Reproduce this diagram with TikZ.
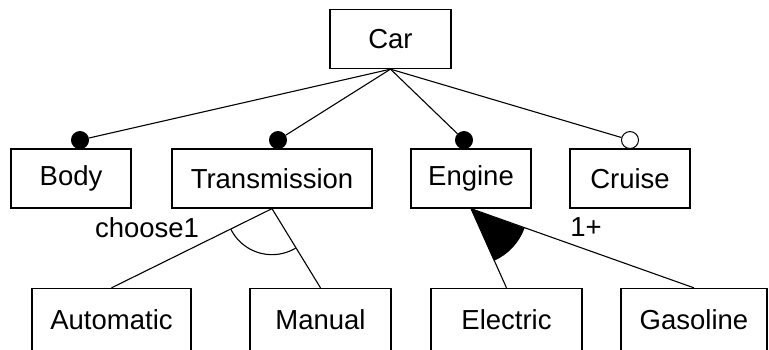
\documentclass[tikz,border=0pt]{standalone}
\usepackage{fontspec}
\setmainfont{Liberation Sans}
\usetikzlibrary{calc}
\begin{document}
\begin{tikzpicture}[x=1pt,y=-1pt,
  feat/.style={draw,line width=1.3pt,inner sep=0pt,minimum height=59pt,font=\fontsize{27.5}{30}\selectfont},
  bfeat/.style={feat,minimum height=62pt},
  conn/.style={line width=1.1pt},
  mand/.style={circle,fill=black,draw=black,line width=1pt,inner sep=0pt,minimum size=17pt},
  opt/.style={circle,fill=white,draw=black,line width=1pt,inner sep=0pt,minimum size=17pt},
  lbl/.style={font=\fontsize{27.5}{30}\selectfont,inner sep=0pt}]
\useasboundingbox (0,0) rectangle (769,349);
\clip (0,0) rectangle (769,349);
\node[feat,minimum width=121pt] (car) at (390.5,39) {Car};
\node[feat,minimum width=120pt] (body) at (71,178.5) {Body};
\node[feat,minimum width=200pt] (trans) at (272,178.5) {Transmission};
\node[feat,minimum width=120pt] (engine) at (471,178.5) {Engine};
\node[feat,minimum width=120pt] (cruise) at (630,178.5) {Cruise};
\node[bfeat,minimum width=159pt] (auto) at (111.5,319.5) {Automatic};
\node[bfeat,minimum width=141pt] (manual) at (320.5,319.5) {Manual};
\node[bfeat,minimum width=151pt] (elec) at (506.5,319.5) {Electric};
\node[bfeat,minimum width=146pt] (gas) at (694,319.5) {Gasoline};
% dots
\node[mand] (dbody) at ($(body.north)+(9,-8.3)$) {};
\node[mand] (dtrans) at ($(trans.north)+(6,-8.3)$) {};
\node[mand] (deng) at ($(engine.north)+(-7,-8.3)$) {};
\node[opt] (dcru) at ($(cruise.north)+(0,-8.3)$) {};
\draw[conn] (car.south) -- (dbody);
\draw[conn] (car.south) -- (dtrans);
\draw[conn] (car.south) -- (deng);
\draw[conn] (car.south) -- (dcru);
% alternative group
\draw[conn] (trans.south) -- (auto.north);
\draw[conn] (trans.south) -- (manual.north);
\draw[conn] ($(trans.south)+(153.2:46)$) arc[start angle=153.2,end angle=59.1,radius=46];
% or group
\fill (engine.south) -- ++(66.3:57) arc[start angle=66.3,end angle=20,radius=57] -- cycle;
\draw[conn] (engine.south) -- (elec.north);
\draw[conn] (engine.south) -- (gas.north);
\node[lbl] (l1) at (147,228) {choose1};
\node[lbl] (l2) at (586,227) {1+};
\end{tikzpicture}
\end{document}
